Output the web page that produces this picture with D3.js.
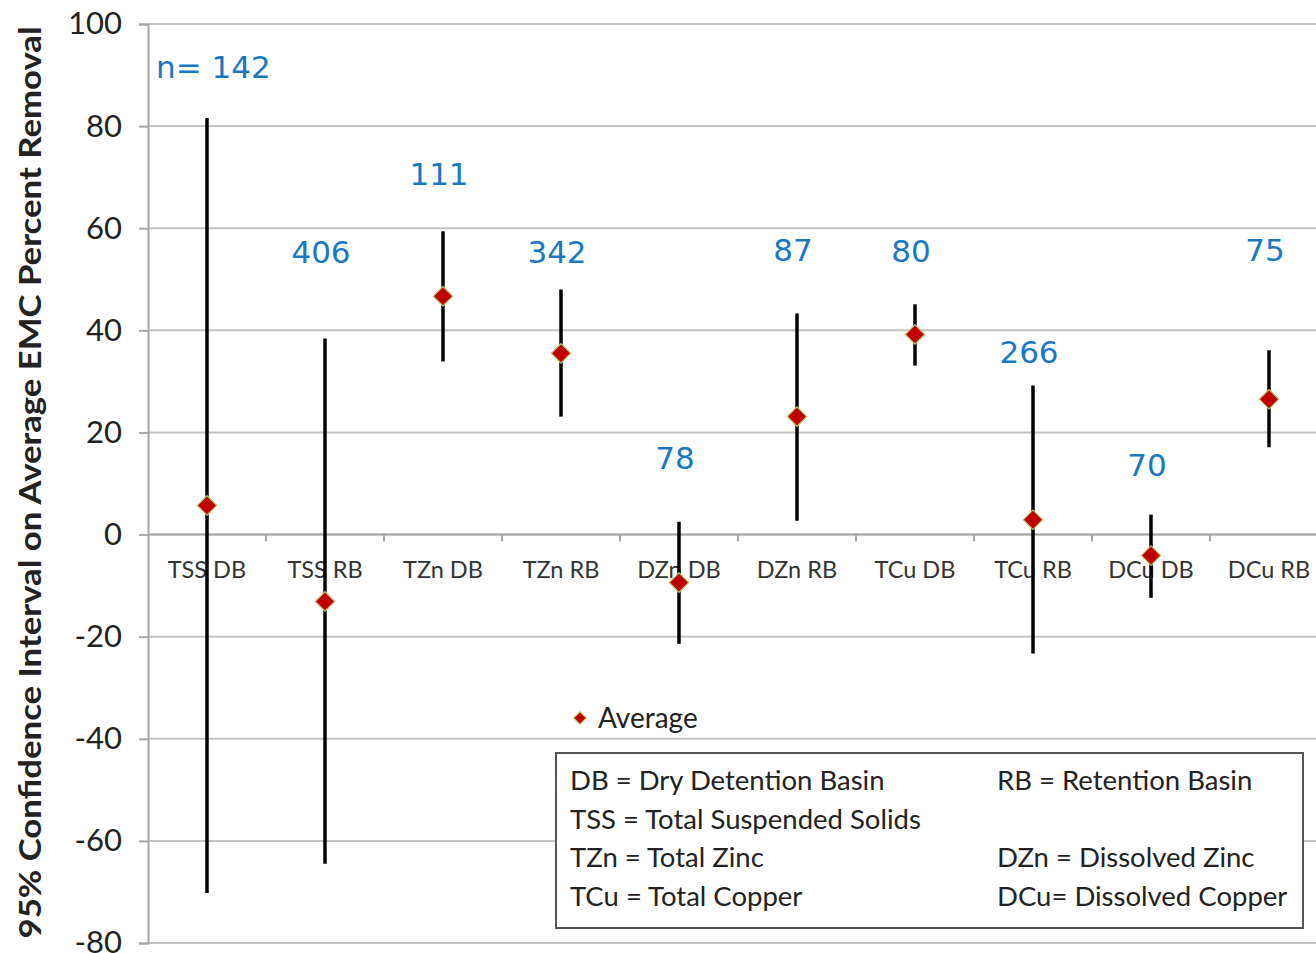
<!DOCTYPE html>
<html>
<head>
<meta charset="utf-8">
<script src="https://cdn.jsdelivr.net/npm/d3@7"></script>
<style>
  body { margin: 0; background: #fff; }
  svg { display: block; }
</style>
</head>
<body>
<div id="vis"></div>
<script>
// categories along the x axis
var categories = ["TSS DB", "TSS RB", "TZn DB", "TZn RB", "DZn DB",
                  "DZn RB", "TCu DB", "TCu RB", "DCu DB", "DCu RB"];
// average EMC percent removal
var averages = [5.7, -13.1, 46.7, 35.5, -9.4, 23.1, 39.2, 2.9, -4.1, 26.5];
// 95% confidence interval bounds
var upper = [81.6, 38.4, 59.4, 48.0, 2.5, 43.3, 45.1, 29.2, 3.9, 36.1];
var lower = [-70.2, -64.5, 33.9, 23.1, -21.4, 2.7, 33.1, -23.3, -12.4, 17.1];
// sample sizes and the height where each label sits
var sampleSizes = ["n= 142", "406", "111", "342", "78", "87", "80", "266", "70", "75"];
var labelLevels = [91.6, 55.3, 70.6, 55.3, 14.9, 55.7, 55.5, 35.7, 13.5, 55.7];
// y ticks
var yTicks = [-80, -60, -40, -20, 0, 20, 40, 60, 80, 100];
// legend text
var legendRows = [
  ["DB = Dry Detention Basin", "RB = Retention Basin"],
  ["TSS = Total Suspended Solids", ""],
  ["TZn = Total Zinc", "DZn = Dissolved Zinc"],
  ["TCu = Total Copper", "DCu= Dissolved Copper"]
];

var width = 1316;
var height = 953;
var margin = { top: 24, left: 148, bottom: 10 };
var bandWidth = 118;

var svg = d3.select("#vis").append("svg")
  .attr("width", width)
  .attr("height", height);

var x = d3.scaleBand()
  .domain(categories)
  .range([margin.left, margin.left + bandWidth * categories.length])
  .padding(0);

var y = d3.scaleLinear()
  .domain([-80, 100])
  .range([943, margin.top]);

var labelFont = "Lato, 'Open Sans', sans-serif";

// gridlines
svg.append("g")
  .selectAll("line")
  .data(yTicks)
  .enter()
  .append("line")
  .attr("x1", margin.left)
  .attr("x2", width)
  .attr("y1", function (d) { return y(d); })
  .attr("y2", function (d) { return y(d); })
  .attr("stroke", "#c4c4c4")
  .attr("stroke-width", 2);

// y axis (plain hyphen for negatives, like the original)
var yAxis = d3.axisLeft(y)
  .tickValues(yTicks)
  .tickFormat(function (d) { return String(d); })
  .tickSize(9)
  .tickPadding(17);
var yG = svg.append("g")
  .attr("transform", "translate(" + margin.left + ",0)")
  .call(yAxis);
yG.select(".domain").attr("stroke", "#a6a6a6").attr("stroke-width", 2);
yG.selectAll(".tick line").attr("stroke", "#a6a6a6").attr("stroke-width", 2);
yG.selectAll(".tick text")
  .style("font-family", labelFont)
  .style("font-size", "31px")
  .attr("fill", "#222");

// y axis title
svg.append("text")
  .attr("transform", "translate(41," + ((25 + 940) / 2) + ") rotate(-90)")
  .attr("text-anchor", "middle")
  .attr("textLength", 912)
  .attr("lengthAdjust", "spacingAndGlyphs")
  .style("font-family", labelFont)
  .style("font-weight", "bold")
  .style("font-size", "31px")
  .attr("fill", "#222")
  .text("95% Confidence Interval on Average EMC Percent Removal");

// x axis line and category ticks
svg.append("line")
  .attr("x1", margin.left)
  .attr("x2", width)
  .attr("y1", y(0))
  .attr("y2", y(0))
  .attr("stroke", "#a6a6a6")
  .attr("stroke-width", 2);

svg.append("g")
  .selectAll("line")
  .data(categories.slice(1))
  .enter()
  .append("line")
  .attr("x1", function (d) { return x(d); })
  .attr("x2", function (d) { return x(d); })
  .attr("y1", y(0))
  .attr("y2", y(0) + 7)
  .attr("stroke", "#a6a6a6")
  .attr("stroke-width", 2);

svg.append("g")
  .selectAll("text")
  .data(categories)
  .enter()
  .append("text")
  .attr("x", function (d) { return x(d) + x.bandwidth() / 2; })
  .attr("y", y(0) + 43)
  .attr("text-anchor", "middle")
  .style("font-family", labelFont)
  .style("font-size", "23.5px")
  .attr("fill", "#333")
  .text(function (d) { return d; });

// legend box
var box = svg.append("g");
box.append("rect")
  .attr("x", 556)
  .attr("y", 753)
  .attr("width", 747)
  .attr("height", 175)
  .attr("fill", "#fff")
  .attr("stroke", "#555")
  .attr("stroke-width", 2);

legendRows.forEach(function (row, i) {
  row.forEach(function (t, j) {
    box.append("text")
      .attr("x", j === 0 ? 570 : 997)
      .attr("y", 790 + i * 38.7)
      .style("font-family", labelFont)
      .style("font-size", "27.5px")
      .attr("fill", "#222")
      .text(t);
  });
});

// confidence interval whiskers
var data = categories.map(function (c, i) {
  return { cat: c, avg: averages[i], hi: upper[i], lo: lower[i],
           n: sampleSizes[i], level: labelLevels[i] };
});

svg.append("g")
  .selectAll("line")
  .data(data)
  .enter()
  .append("line")
  .attr("x1", function (d) { return x(d.cat) + x.bandwidth() / 2; })
  .attr("x2", function (d) { return x(d.cat) + x.bandwidth() / 2; })
  .attr("y1", function (d) { return y(d.hi); })
  .attr("y2", function (d) { return y(d.lo); })
  .attr("stroke", "#000")
  .attr("stroke-width", 3.5);

// average markers
var diamond = d3.symbol().type(d3.symbolSquare).size(190);
svg.append("g")
  .selectAll("path")
  .data(data)
  .enter()
  .append("path")
  .attr("d", diamond)
  .attr("transform", function (d) {
    return "translate(" + (x(d.cat) + x.bandwidth() / 2) + "," + y(d.avg) + ") rotate(45)";
  })
  .attr("fill", "#c00000")
  .attr("stroke", "#b5c96a")
  .attr("stroke-width", 1.2);

// sample size labels
svg.append("g")
  .selectAll("text")
  .data(data)
  .enter()
  .append("text")
  .attr("x", function (d, i) {
    return i === 0 ? margin.left + 8 : x(d.cat) + x.bandwidth() / 2 - 4;
  })
  .attr("y", function (d) { return y(d.level); })
  .attr("dy", "0.35em")
  .attr("text-anchor", function (d, i) { return i === 0 ? "start" : "middle"; })
  .style("font-family", "'DejaVu Sans', sans-serif")
  .style("font-size", "31px")
  .attr("fill", "#1a78c2")
  .text(function (d) { return d.n; });

// "Average" series legend
var leg = svg.append("g").attr("transform", "translate(580,718)");
leg.append("path")
  .attr("d", d3.symbol().type(d3.symbolSquare).size(80))
  .attr("transform", "rotate(45)")
  .attr("fill", "#c00000")
  .attr("stroke", "#b5c96a")
  .attr("stroke-width", 1);
leg.append("text")
  .attr("x", 18)
  .attr("dy", "0.35em")
  .style("font-family", labelFont)
  .style("font-size", "28px")
  .attr("fill", "#222")
  .text("Average");
</script>
</body>
</html>
